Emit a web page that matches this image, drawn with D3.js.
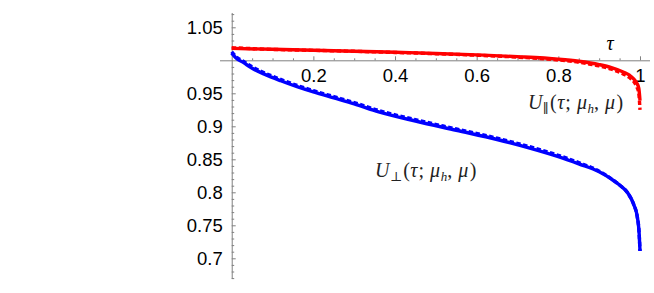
<!DOCTYPE html>
<html><head><meta charset="utf-8">
<script src="https://cdn.jsdelivr.net/npm/d3@7"></script>
<style>body{margin:0;background:#fff}svg{display:block}</style>
</head><body>
<svg id="c" width="654" height="293"></svg>
<script>
const xTicks = [0.2, 0.4, 0.6, 0.8, 1];
const xTickLabels = ["0.2", "0.4", "0.6", "0.8", "1"];
const yTicks = [0.7, 0.75, 0.8, 0.85, 0.9, 0.95, 1.05];
const yTickLabels = ["0.7", "0.75", "0.8", "0.85", "0.9", "0.95", "1.05"];

const tauRed = [0, 0.1, 0.2, 0.3, 0.4, 0.5, 0.6, 0.7, 0.8, 0.85, 0.9, 0.93, 0.96, 0.975, 0.985, 0.992, 0.997, 1.0];
const redSolid = [1.018, 1.0167, 1.0153, 1.0138, 1.0122, 1.0104, 1.0082, 1.0055, 1.0017, 0.9985, 0.9935, 0.989, 0.982, 0.977, 0.9715, 0.9655, 0.958, 0.939];
const redDashed = [1.019, 1.0165, 1.0151, 1.0136, 1.0119, 1.0100, 1.0077, 1.0048, 1.0005, 0.997, 0.9915, 0.9865, 0.979, 0.9735, 0.9675, 0.960, 0.950, 0.925];

const tauBlue = [0, 0.01, 0.03, 0.05, 0.08, 0.12, 0.16, 0.2, 0.25, 0.3, 0.36, 0.45, 0.55, 0.65, 0.73, 0.8, 0.85, 0.9, 0.93, 0.95, 0.97, 0.985, 0.993, 0.998, 1.0];
const blueSolid = [1.011, 1.004, 0.996, 0.988, 0.979, 0.969, 0.960, 0.952, 0.943, 0.934, 0.922, 0.908, 0.894, 0.880, 0.867, 0.854, 0.843, 0.831, 0.820, 0.811, 0.799, 0.781, 0.764, 0.737, 0.711];
const blueDashed = [1.013, 1.006, 0.998, 0.990, 0.981, 0.971, 0.962, 0.954, 0.945, 0.936, 0.924, 0.910, 0.896, 0.882, 0.869, 0.856, 0.845, 0.832, 0.8205, 0.811, 0.799, 0.781, 0.764, 0.737, 0.711];

const svg = d3.select("#c");
const x = d3.scaleLinear().domain([-0.0287, 1.0245]).range([220, 650]);
const y = d3.scaleLinear().domain([1, 0.7]).range([60.3, 258.3]);
const yTop = 1.0717, yBot = 0.6686;
const axisColor = "#808080";
const tickFont = "'Liberation Sans', Arial, sans-serif";

// x axis at y = 1
const gx = svg.append("g").attr("transform", `translate(0,${y(1)})`);
gx.call(d3.axisBottom(x).tickValues(d3.range(0.05, 1.001, 0.05).filter(v => Math.abs(v*5 - Math.round(v*5)) > 1e-6)).tickSizeInner(-2).tickSizeOuter(0).tickFormat(""));
gx.call(g => g.select(".domain").remove());
const gx2 = svg.append("g").attr("transform", `translate(0,${y(1)})`);
gx2.call(d3.axisBottom(x).tickValues(xTicks).tickSizeInner(-4).tickSizeOuter(0).tickPadding(8.5)
  .tickFormat((d, i) => xTickLabels[i]));
gx2.select(".domain").attr("d", `M${x.range()[0]},0.5H${x.range()[1]}`);

// y axis at x = 0
const gy = svg.append("g").attr("transform", `translate(${x(0)},0)`);
const minorY = d3.range(67, 108).map(v => v / 100).filter(v => Math.abs(v*20 - Math.round(v*20)) > 1e-6);
gy.call(d3.axisLeft(y).tickValues(minorY).tickSizeInner(-2.5).tickSizeOuter(0).tickFormat(""));
gy.select(".domain").remove();
const gy2 = svg.append("g").attr("transform", `translate(${x(0)},0)`);
gy2.call(d3.axisLeft(y).tickValues(yTicks).tickSizeInner(-4).tickSizeOuter(0).tickPadding(9)
  .tickFormat((d, i) => yTickLabels[i]));
gy2.select(".domain").attr("d", `M0.5,${y(yTop)}V${y(yBot)}`);

svg.selectAll(".tick line").attr("stroke", axisColor);
svg.selectAll(".domain").attr("stroke", axisColor);
svg.selectAll(".tick text").attr("font-family", tickFont).attr("font-size", 18.5).attr("fill", "#000");

// curves
const line = d3.line().x(d => x(d[0])).y(d => y(d[1])).curve(d3.curveMonotoneX);
function draw(ts, vs, color, dashed) {
  svg.append("path").datum(ts.map((t, i) => [t, vs[i]]))
    .attr("d", line).attr("fill", "none").attr("stroke", color)
    .attr("stroke-width", 3.4)
    .attr("stroke-dasharray", dashed ? "4.5,2.5" : null);
}
draw(tauBlue, blueDashed, "#0000ff", true);
draw(tauBlue, blueSolid, "#0000ff", false);
draw(tauRed, redDashed, "#ff0000", true);
draw(tauRed, redSolid, "#ff0000", false);

// labels
const serif = "'Liberation Serif', 'DejaVu Serif', serif";
svg.append("text").attr("x", 610).attr("y", 50).attr("text-anchor", "middle")
  .attr("font-family", serif).attr("font-style", "italic").attr("font-size", 20).text("τ");

function label(xp, yp, sub) {
  const t = svg.append("text").attr("x", xp).attr("y", yp).attr("font-family", serif).attr("font-size", 20).attr("fill", "#222");
  t.append("tspan").attr("font-style", "italic").text("U");
  t.append("tspan").attr("font-size", 13).attr("dy", 4).attr("dx", 0.5).text(sub);
  t.append("tspan").attr("dy", -4).attr("dx", 1).text("(");
  t.append("tspan").attr("font-style", "italic").attr("dx", 0.5).text("τ");
  t.append("tspan").attr("dx", 1).text(";");
  t.append("tspan").attr("font-style", "italic").attr("dx", 6).text("μ");
  t.append("tspan").attr("font-style", "italic").attr("font-size", 13).attr("dy", 4).attr("dx", 0.5).text("h");
  t.append("tspan").attr("dy", -4).text(",");
  t.append("tspan").attr("font-style", "italic").attr("dx", 6).text("μ");
  t.append("tspan").attr("dx", 1.5).text(")");
}
label(528, 109, "∥");
label(375, 177, "⊥");
</script>
</body></html>
